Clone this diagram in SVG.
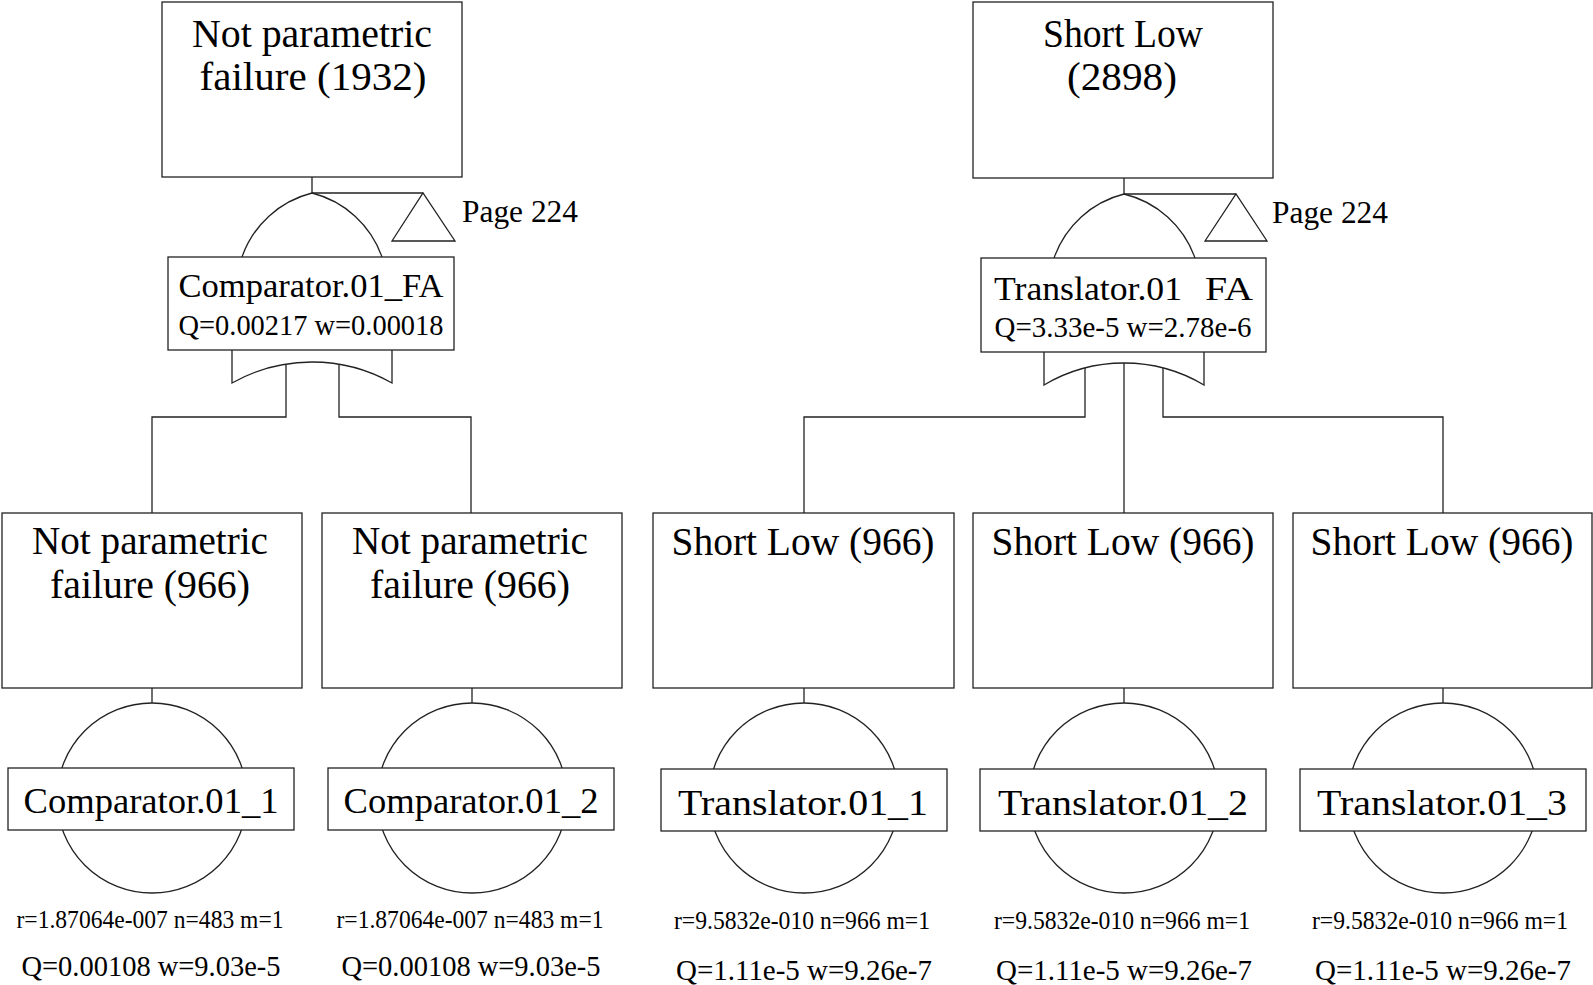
<svg xmlns="http://www.w3.org/2000/svg" width="1593" height="985" viewBox="0 0 1593 985">
<style>
  .box{fill:#fff;stroke:#222;stroke-width:1.3}
  .ln{fill:none;stroke:#222;stroke-width:1.3}
  text{font-family:"Liberation Serif","Times New Roman",serif;fill:#000;text-anchor:middle}
  .t1{font-size:39px}
  .t2{font-size:34px}
  .t3{font-size:30px}
  .lab{font-size:36px}
  .pg{font-size:31px;text-anchor:start}
  .r{font-size:25px}
</style>
<rect width="1593" height="985" fill="#fff"/>
<g id="connectors">
  <!-- left tree -->
  <path class="ln" d="M312,177 V193 H423"/>
  <path class="ln" d="M286,364 V417 H152 V513"/>
  <path class="ln" d="M339,364 V417 H471 V513"/>
  <path class="ln" d="M152,688 V703"/>
  <path class="ln" d="M472,688 V703"/>
  <!-- right tree -->
  <path class="ln" d="M1124,178 V194 H1236"/>
  <path class="ln" d="M1085,368 V417 H804 V513"/>
  <path class="ln" d="M1124,363 V513"/>
  <path class="ln" d="M1163,368 V417 H1443 V513"/>
  <path class="ln" d="M804,688 V703"/>
  <path class="ln" d="M1124,688 V703"/>
  <path class="ln" d="M1443,688 V703"/>
</g>
<g id="top_left">
  <rect class="box" x="162" y="2" width="300" height="175"/>
  <text class="t1" x="312" y="47" textLength="240" lengthAdjust="spacingAndGlyphs">Not parametric</text>
  <text class="t1" x="313" y="90" textLength="227" lengthAdjust="spacingAndGlyphs">failure (1932)</text>
</g>
<g id="gate_left">
  <path class="ln" d="M242,257 A100,100 0 0 1 312,193 A100,100 0 0 1 382,257"/>
  <path class="ln" d="M392,241 L423,193 L455,241 Z"/>
  <text class="pg" x="462" y="222" textLength="116" lengthAdjust="spacingAndGlyphs">Page 224</text>
  <path class="ln" d="M232,350 V383 A163,163 0 0 1 392,383 V350"/>
  <rect class="box" x="168" y="257" width="286" height="93"/>
  <text class="t2" x="311" y="297" textLength="265" lengthAdjust="spacingAndGlyphs">Comparator.01_FA</text>
  <text class="t3" x="311" y="335" textLength="265" lengthAdjust="spacingAndGlyphs">Q=0.00217 w=0.00018</text>
</g>
<g id="top_right">
  <rect class="box" x="973" y="2" width="300" height="176"/>
  <text class="t1" x="1123" y="47" textLength="160" lengthAdjust="spacingAndGlyphs">Short Low</text>
  <text class="t1" x="1122" y="90" textLength="110" lengthAdjust="spacingAndGlyphs">(2898)</text>
</g>
<g id="gate_right">
  <path class="ln" d="M1054,258 A100,100 0 0 1 1124,194 A100,100 0 0 1 1195,258"/>
  <path class="ln" d="M1205,241 L1236,194 L1267,241 Z"/>
  <text class="pg" x="1272" y="223" textLength="116" lengthAdjust="spacingAndGlyphs">Page 224</text>
  <path class="ln" d="M1044,352 V385 A156.5,156.5 0 0 1 1204,385 V352"/>
  <rect class="box" x="981" y="258" width="285" height="94"/>
  <text class="t2" x="1088" y="300" textLength="188" lengthAdjust="spacingAndGlyphs">Translator.01</text>
  <text class="t2" x="1229" y="300" textLength="48" lengthAdjust="spacingAndGlyphs">FA</text>
  <text class="t3" x="1123" y="337" textLength="257" lengthAdjust="spacingAndGlyphs">Q=3.33e-5 w=2.78e-6</text>
</g>
<g id="child_comp1">
  <rect class="box" x="2" y="513" width="300" height="175"/>
  <text class="t1" x="150" y="554" textLength="236" lengthAdjust="spacingAndGlyphs">Not parametric</text>
  <text class="t1" x="150" y="598" textLength="200" lengthAdjust="spacingAndGlyphs">failure (966)</text>
  <circle class="ln" cx="152" cy="798" r="95"/>
  <rect class="box" x="8" y="768" width="286" height="62"/>
  <text class="lab" x="151" y="813" textLength="255" lengthAdjust="spacingAndGlyphs">Comparator.01_1</text>
  <text class="r" x="150" y="928" textLength="267" lengthAdjust="spacingAndGlyphs">r=1.87064e-007 n=483 m=1</text>
  <text class="t3" x="151" y="976" textLength="259" lengthAdjust="spacingAndGlyphs">Q=0.00108 w=9.03e-5</text>
</g>
<g id="child_comp2">
  <rect class="box" x="322" y="513" width="300" height="175"/>
  <text class="t1" x="470" y="554" textLength="236" lengthAdjust="spacingAndGlyphs">Not parametric</text>
  <text class="t1" x="470" y="598" textLength="200" lengthAdjust="spacingAndGlyphs">failure (966)</text>
  <circle class="ln" cx="472" cy="798" r="95"/>
  <rect class="box" x="328" y="768" width="286" height="62"/>
  <text class="lab" x="471" y="813" textLength="255" lengthAdjust="spacingAndGlyphs">Comparator.01_2</text>
  <text class="r" x="470" y="928" textLength="267" lengthAdjust="spacingAndGlyphs">r=1.87064e-007 n=483 m=1</text>
  <text class="t3" x="471" y="976" textLength="259" lengthAdjust="spacingAndGlyphs">Q=0.00108 w=9.03e-5</text>
</g>
<g id="child_tr1">
  <rect class="box" x="653" y="513" width="301" height="175"/>
  <text class="t1" x="803" y="555" textLength="263" lengthAdjust="spacingAndGlyphs">Short Low (966)</text>
  <circle class="ln" cx="804" cy="798" r="95"/>
  <rect class="box" x="661" y="769" width="286" height="62"/>
  <text class="lab" x="803" y="815" textLength="250" lengthAdjust="spacingAndGlyphs">Translator.01_1</text>
  <text class="r" x="802" y="929" textLength="256" lengthAdjust="spacingAndGlyphs">r=9.5832e-010 n=966 m=1</text>
  <text class="t3" x="804" y="980" textLength="256" lengthAdjust="spacingAndGlyphs">Q=1.11e-5 w=9.26e-7</text>
</g>
<g id="child_tr2">
  <rect class="box" x="973" y="513" width="300" height="175"/>
  <text class="t1" x="1123" y="555" textLength="263" lengthAdjust="spacingAndGlyphs">Short Low (966)</text>
  <circle class="ln" cx="1124" cy="798" r="95"/>
  <rect class="box" x="980" y="769" width="286" height="62"/>
  <text class="lab" x="1123" y="815" textLength="250" lengthAdjust="spacingAndGlyphs">Translator.01_2</text>
  <text class="r" x="1122" y="929" textLength="256" lengthAdjust="spacingAndGlyphs">r=9.5832e-010 n=966 m=1</text>
  <text class="t3" x="1124" y="980" textLength="256" lengthAdjust="spacingAndGlyphs">Q=1.11e-5 w=9.26e-7</text>
</g>
<g id="child_tr3">
  <rect class="box" x="1293" y="513" width="299" height="175"/>
  <text class="t1" x="1442" y="555" textLength="263" lengthAdjust="spacingAndGlyphs">Short Low (966)</text>
  <circle class="ln" cx="1443" cy="798" r="95"/>
  <rect class="box" x="1300" y="769" width="286" height="62"/>
  <text class="lab" x="1442" y="815" textLength="250" lengthAdjust="spacingAndGlyphs">Translator.01_3</text>
  <text class="r" x="1440" y="929" textLength="256" lengthAdjust="spacingAndGlyphs">r=9.5832e-010 n=966 m=1</text>
  <text class="t3" x="1443" y="980" textLength="256" lengthAdjust="spacingAndGlyphs">Q=1.11e-5 w=9.26e-7</text>
</g>
</svg>
